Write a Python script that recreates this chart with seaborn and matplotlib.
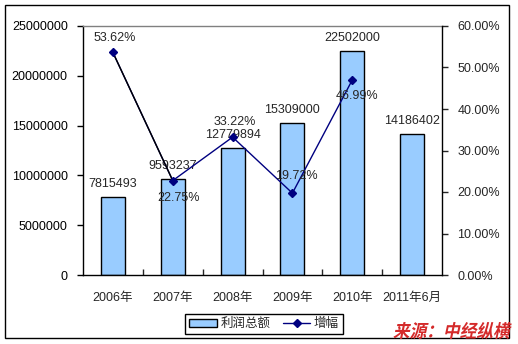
import matplotlib
matplotlib.use("Agg")
import matplotlib.pyplot as plt
import seaborn as sns
import pandas as pd
from matplotlib.patches import Rectangle, PathPatch
from matplotlib.lines import Line2D
from matplotlib.ticker import FixedLocator, FuncFormatter
from matplotlib.textpath import TextPath
from matplotlib.font_manager import FontProperties
from matplotlib.transforms import Affine2D, IdentityTransform

years = ['2006年', '2007年', '2008年', '2009年', '2010年', '2011年6月']
profit = [7815493, 9593237, 12779894, 15309000, 22502000, 14186402]
growth = [53.62, 22.75, 33.22, 19.72, 46.99]
growth_labels = ['53.62%', '22.75%', '33.22%', '19.72%', '46.99%']
bar_name = '利润总额'
line_name = '增幅'
source_text = '来源：中经纵横'

sns.set_style("white")
plt.rcParams['font.family'] = ['Liberation Sans', 'Noto Sans CJK SC', 'DejaVu Sans']

DPI = 100
PX = 72 / DPI  # points per pixel
W, H = 518, 344
fig = plt.figure(figsize=(W / DPI, H / DPI), dpi=DPI)
ax = fig.add_axes([83 / W, 1 - 275 / H, (442 - 83) / W, (275 - 26) / H])

df = pd.DataFrame({'year': years, 'profit': profit})
sns.barplot(data=df, x='year', y='profit', ax=ax, color='#99CCFF', saturation=1,
            edgecolor='black', linewidth=1.0, width=0.4)
ax.set_xlim(-0.5, len(years) - 0.5)
ax.set_ylim(0, 25000000)
ax.set_xlabel('')
ax.set_ylabel('')
ax.set_yticks(range(0, 25000001, 5000000))
ax.yaxis.set_major_formatter(FuncFormatter(lambda v, p: f"{int(v)}"))
ax.tick_params(axis='y', direction='out', length=4, width=1, pad=7, labelsize=9, colors='black', left=True)
ax.tick_params(axis='x', which='major', length=0, pad=12, labelsize=9)
ax.xaxis.set_minor_locator(FixedLocator([i + 0.5 for i in range(len(years) - 1)]))
ax.tick_params(axis='x', which='minor', direction='in', length=4, width=1, bottom=True)
for s in ['left', 'bottom']:
    ax.spines[s].set_color('black')
    ax.spines[s].set_linewidth(1)
ax.spines['top'].set_color('#808080')
ax.spines['top'].set_linewidth(1)
ax.spines['right'].set_visible(False)

for i, v in enumerate(profit):
    ax.annotate(str(v), (i, v), xytext=(0, 13 * PX), textcoords='offset points',
                ha='center', va='center', fontsize=9)

ax2 = ax.twinx()
ax2.set_ylim(0, 60)
ax2.set_yticks(range(0, 61, 10))
ax2.yaxis.set_major_formatter(FuncFormatter(lambda v, p: f"{v:.2f}%"))
ax2.tick_params(axis='y', direction='out', length=4, width=1, pad=7, labelsize=9, right=True)
for s in ['left', 'top', 'bottom']:
    ax2.spines[s].set_visible(False)
ax2.spines['right'].set_color('black')
ax2.spines['right'].set_linewidth(1)
ax2.grid(False)

xs = list(range(len(growth)))
sns.lineplot(x=xs, y=growth, ax=ax2, color='#000080', linewidth=1.0, legend=False)
ax2.plot(xs[:2], growth[:2], color='black', linewidth=1.0)
ax2.plot(xs, growth, linestyle='none', marker='D', markersize=4.5, color='#000080')
ax2.set_xlim(-0.5, len(years) - 0.5)

offsets = [(2, 14), (6, -17), (2, 15), (4, 17), (5, -16)]
for i, (g, lab) in enumerate(zip(growth, growth_labels)):
    dx, dy = offsets[i]
    ax2.annotate(lab, (i, g), xytext=(dx * PX, dy * PX), textcoords='offset points',
                 ha='center', va='center', fontsize=9)

# legend
handles = [Rectangle((0, 0), 1, 1, facecolor='#99CCFF', edgecolor='black', linewidth=1),
           Line2D([], [], color='#000080', marker='D', markersize=4, linewidth=1)]
leg = fig.legend(handles, [bar_name, line_name], loc='center',
                 bbox_to_anchor=(264 / W, 1 - 324 / H), ncol=2, fontsize=9,
                 frameon=True, fancybox=False, edgecolor='black', framealpha=1,
                 handlelength=2.2, handleheight=0.6, handletextpad=0.3,
                 columnspacing=1.0, borderpad=0.3)
leg.get_frame().set_linewidth(1)

# outer frame
fig.add_artist(Rectangle((5 / W, 1 - 338 / H), (509 - 5) / W, (338 - 5) / H,
                         transform=fig.transFigure, fill=False, edgecolor='black', linewidth=1))

# source text (bold, slanted) drawn as text path in pixel coordinates
fp = FontProperties(family='Noto Sans CJK SC', weight='bold')
tp = TextPath((0, 0), source_text, size=18, prop=fp)
bb = tp.get_extents()
target_w = 512 - 396
sx = target_w / bb.width
tr = Affine2D().translate(-bb.x0, -bb.y0).scale(sx, 1.0).skew_deg(12, 0).translate(393, H - 339)
path = tr.transform_path(tp)
fig.add_artist(PathPatch(path, transform=IdentityTransform(), facecolor='#D42A2A',
                         edgecolor='none', zorder=10))

fig.savefig('out.png', dpi=DPI)
